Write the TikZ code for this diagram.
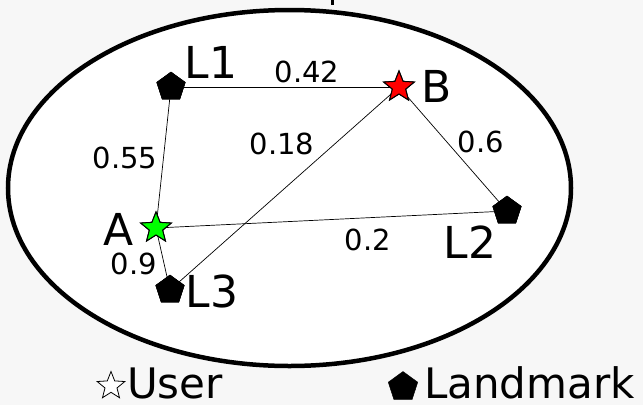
\documentclass[tikz,border=0pt]{standalone}
\usepackage{fontspec}
\setmainfont{DejaVu Sans}
\usetikzlibrary{shapes.geometric}
\begin{document}
\begin{tikzpicture}[x=1pt,y=-1pt,
  landmark/.style={regular polygon,regular polygon sides=5,fill=black,draw=black,
    inner sep=0pt,minimum size=30pt},
  user/.style={star,star points=5,star point ratio=2.3,draw=black,line width=1pt,
    inner sep=0pt,minimum size=32pt},
  edge/.style={draw=black,line width=0.7pt},
  tag/.style={font=\fontsize{44}{44}\selectfont,inner sep=0pt},
  weight/.style={font=\fontsize{29}{29}\selectfont,inner sep=0pt},
  keytext/.style={font=\fontsize{42}{42}\selectfont,inner sep=0pt,anchor=base west}]
  % canvas
  \fill[black!3] (0,0) rectangle (643,405);
  \useasboundingbox (0,0) rectangle (643,405);
  \fill (331,0) rectangle (334,5);
  % region
  \filldraw[fill=white,draw=black,line width=4.5pt] (289.5,188) ellipse [x radius=281.5, y radius=178];
  % places
  \node[landmark] (L1) at (171,87) {};
  \node[landmark] (L2) at (507,211) {};
  \node[landmark] (L3) at (170,290) {};
  \node[user,fill=red] (B) at (399,87) {};
  \node[user,fill=green] (A) at (156,228) {};
  % links
  \draw[edge] (L1.center) -- (B.center);
  \draw[edge] (L1.center) -- (A.center);
  \draw[edge] (B.center) -- (L3.center);
  \draw[edge] (B.center) -- (L2.center);
  \draw[edge] (A.center) -- (L2.center);
  \draw[edge] (A.center) -- (L3.center);
  % redraw markers on top of links
  \node[landmark] at (L1) {};
  \node[landmark] at (L2) {};
  \node[landmark] at (L3) {};
  \node[user,fill=red] at (B) {};
  \node[user,fill=green] at (A) {};
  % names
  \node[tag] (tL1) at (211,62) {L1};
  \node[tag] (tB) at (437,86) {B};
  \node[tag] (tL2) at (470,242) {L2};
  \node[tag] (tA) at (119,229) {A};
  \node[tag] (tL3) at (212,291) {L3};
  % weights
  \node[weight] (w1) at (307,72) {0.42};
  \node[weight] (w2) at (125,158) {0.55};
  \node[weight] (w3) at (282,144) {0.18};
  \node[weight] (w4) at (481,142) {0.6};
  \node[weight] (w5) at (368,240) {0.2};
  \node[weight] (w6) at (134,264) {0.9};
  % legend
  \node[user,fill=white,line width=0.8pt,minimum size=29pt] (kU) at (111,386) {};
  \node[keytext] (kUt) at (127,398) {User};
  \node[landmark,minimum size=31pt] (kL) at (403,387) {};
  \node[keytext] (kLt) at (424,398) {Landmark};
\end{tikzpicture}
\end{document}
